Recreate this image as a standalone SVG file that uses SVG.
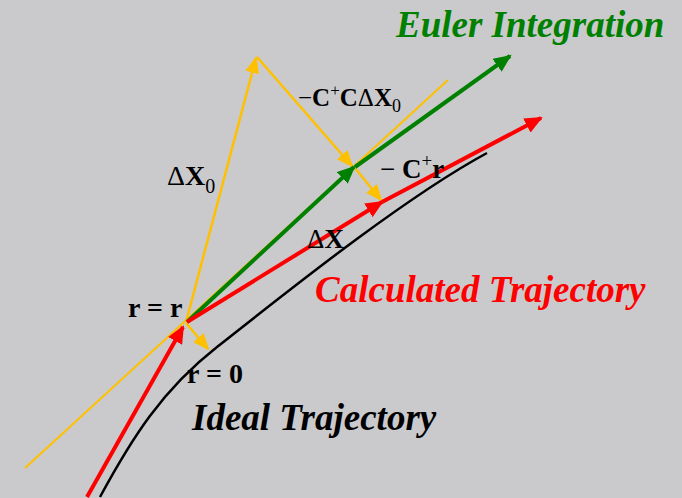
<svg xmlns="http://www.w3.org/2000/svg" width="682" height="498" viewBox="0 0 682 498">
<defs>
<style>
.bg{fill:#cacacd}
.lbl{font-family:"Liberation Serif","Times New Roman",serif;font-weight:bold;font-style:italic;font-size:37px}
.m{font-family:"Liberation Serif","Times New Roman",serif;font-weight:bold;fill:#000}
.n{font-weight:normal}
.red{stroke:#ff0000;stroke-width:4;fill:none}
.grn{stroke:#008000;stroke-width:4;fill:none}
.yel{stroke:#ffc000;stroke-width:2.5;fill:none}
.yelthin{stroke:#ffc000;stroke-width:2;fill:none}
.blk{stroke:#000;stroke-width:2.5;fill:none}
</style>
<marker id="hr" markerUnits="userSpaceOnUse" markerWidth="20" markerHeight="16" refX="16" refY="8" orient="auto"><path d="M0,0 L18,8 L0,16 z" fill="#ff0000"/></marker>
<marker id="hg" markerUnits="userSpaceOnUse" markerWidth="20" markerHeight="16" refX="16" refY="8" orient="auto"><path d="M0,0 L18,8 L0,16 z" fill="#008000"/></marker>
<marker id="hy" markerUnits="userSpaceOnUse" markerWidth="20" markerHeight="14" refX="15" refY="7" orient="auto"><path d="M0,0 L17,7 L0,14 z" fill="#ffc000"/></marker>
</defs>
<rect class="bg" x="0" y="0" width="682" height="498"/>
<g id="connectors">
<path id="ideal-curve" class="blk" d="M100,497 C132,438 162,390 217,347 S400,200 487,153"/>
<path id="yellow-line" class="yelthin" d="M25,468 L448,80"/>
<path id="dx0" class="yel" d="M186,322 L256,58" marker-end="url(#hy)"/>
<path id="ccdx0" class="yel" d="M257,57 L352,166" marker-end="url(#hy)"/>
<path id="cr" class="yel" d="M355,168 L381,200" marker-end="url(#hy)"/>
<path id="r0" class="yel" d="M186,323 L208,349" marker-end="url(#hy)"/>
<path id="green1" class="grn" d="M187,322 L354,167" marker-end="url(#hg)"/>
<path id="green2" class="grn" d="M355,167 L510,56" marker-end="url(#hg)"/>
<path id="red0" class="red" d="M87,497 L183,327" marker-end="url(#hr)"/>
<path id="red1" class="red" d="M187,322 L382,202" marker-end="url(#hr)"/>
<path id="red2" class="red" d="M382,202 L541,118" marker-end="url(#hr)"/>
</g>
<g id="euler"><text class="lbl" x="396" y="37" fill="#008000">Euler Integration</text></g>
<g id="calculated"><text class="lbl" x="315" y="302" fill="#ff0000">Calculated Trajectory</text></g>
<g id="ideal"><text class="lbl" x="192" y="430" fill="#000">Ideal Trajectory</text></g>
<g id="r-eq-r"><text class="m" x="128" y="317" font-size="28">r = r</text></g>
<g id="r-eq-0"><text class="m" x="187" y="383" font-size="28">r = 0</text></g>
<g id="label-dx0"><text class="m" x="167" y="185" font-size="28"><tspan class="n">Δ</tspan>X<tspan class="n" font-size="20" dy="8">0</tspan></text></g>
<g id="label-ccdx0"><text class="m" x="298" y="106" font-size="25"><tspan class="n">−</tspan>C<tspan class="n" font-size="17" dy="-10">+</tspan><tspan dy="10">C</tspan><tspan class="n">Δ</tspan>X<tspan class="n" font-size="18" dy="6">0</tspan></text></g>
<g id="label-cr"><text class="m" x="380" y="178" font-size="27"><tspan class="n">− </tspan>C<tspan class="n" font-size="19" dy="-11">+</tspan><tspan dy="11">r</tspan></text></g>
<g id="label-dx"><text class="m" x="307" y="248" font-size="27"><tspan class="n">Δ</tspan>X</text></g>
</svg>
